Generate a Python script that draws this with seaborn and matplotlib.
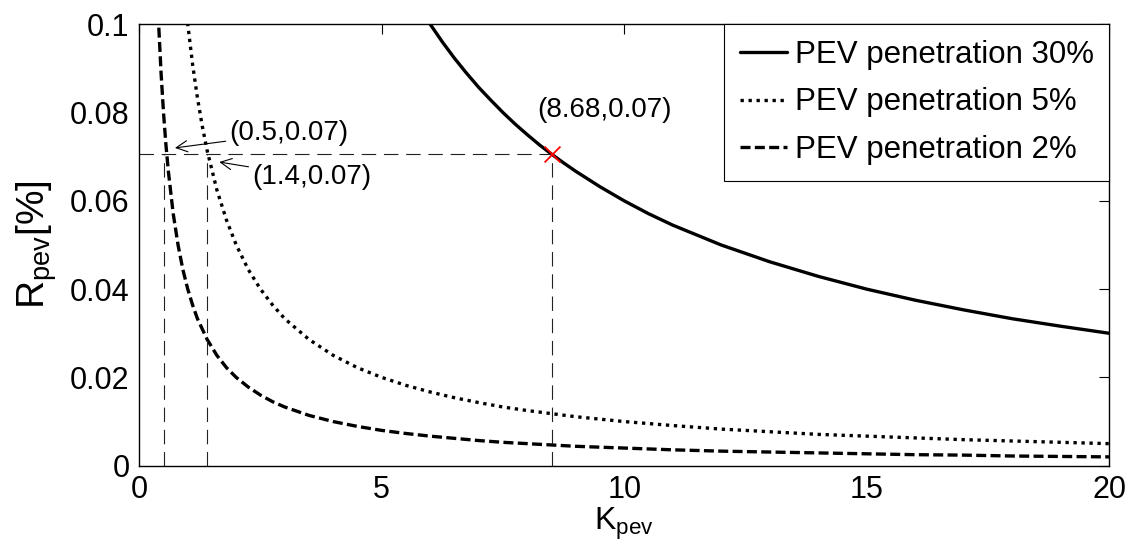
import matplotlib
matplotlib.use("Agg")
import matplotlib.pyplot as plt
import numpy as np
import pandas as pd
import seaborn as sns

# ---- data ----
k_30 = [5.5, 6, 6.25, 6.5, 6.75, 7, 7.25, 7.5, 7.75, 8, 8.25, 8.5, 8.75, 9, 9.5, 10,
        10.5, 11, 12, 13, 14, 15, 16, 17, 18, 19, 20]
r_30 = [0.109, 0.1, 0.096, 0.0923, 0.0889, 0.0857, 0.0828, 0.08, 0.0774, 0.075,
        0.0727, 0.0706, 0.0686, 0.0667, 0.0632, 0.06, 0.0571, 0.0545, 0.05, 0.0462,
        0.0429, 0.04, 0.0375, 0.0353, 0.0333, 0.0316, 0.03]

k_5 = [0.9, 1.0, 1.1, 1.2, 1.3, 1.4, 1.6, 1.8, 2.0, 2.25, 2.5, 2.75, 3, 3.5, 4, 4.5,
       5, 5.5, 6, 6.5, 7, 7.5, 8, 8.5, 9, 10, 11, 12, 13, 14, 15, 16, 17, 18, 19, 20]
r_5 = [0.1111, 0.1, 0.0909, 0.0833, 0.0769, 0.0714, 0.0625, 0.0556, 0.05, 0.0444,
       0.04, 0.0364, 0.0333, 0.0286, 0.025, 0.0222, 0.02, 0.0182, 0.0167, 0.0154,
       0.0143, 0.0133, 0.0125, 0.0118, 0.0111, 0.01, 0.0091, 0.0083, 0.0077, 0.0071,
       0.0067, 0.0063, 0.0059, 0.0056, 0.0053, 0.005]

k_2 = [0.35, 0.4, 0.45, 0.5, 0.55, 0.6, 0.7, 0.8, 0.9, 1.0, 1.1, 1.2, 1.4, 1.6, 1.8,
       2.0, 2.25, 2.5, 2.75, 3, 3.5, 4, 4.5, 5, 5.5, 6, 6.5, 7, 7.5, 8, 8.5, 9, 10,
       11, 12, 13, 14, 15, 16, 17, 18, 19, 20]
r_2 = [0.1143, 0.1, 0.0889, 0.08, 0.0727, 0.0667, 0.0571, 0.05, 0.0444, 0.04, 0.0364,
       0.0333, 0.0286, 0.025, 0.0222, 0.02, 0.0178, 0.016, 0.0145, 0.0133, 0.0114,
       0.01, 0.0089, 0.008, 0.0073, 0.0067, 0.0062, 0.0057, 0.0053, 0.005, 0.0047,
       0.0044, 0.004, 0.0036, 0.0033, 0.0031, 0.0029, 0.0027, 0.0025, 0.0024, 0.0022,
       0.0021, 0.002]

series_labels = ["PEV penetration 30%", "PEV penetration 5%", "PEV penetration 2%"]

ref_k = [0.5, 1.4, 8.5]
ref_r = 0.0706
point_labels = ["(0.5,0.07)", "(1.4,0.07)", "(8.68,0.07)"]

x_ticks = [0, 5, 10, 15, 20]
y_ticks = [0, 0.02, 0.04, 0.06, 0.08, 0.1]
y_tick_labels = ["0", "0.02", "0.04", "0.06", "0.08", "0.1"]

# ---- style ----
sns.set_theme(style="white")
plt.rcParams["font.family"] = ["Liberation Sans", "DejaVu Sans"]
plt.rcParams["mathtext.fontset"] = "custom"
plt.rcParams["mathtext.rm"] = "Liberation Sans"
plt.rcParams["mathtext.it"] = "Liberation Sans:italic"
for key in ["text.color", "axes.labelcolor", "xtick.color", "ytick.color"]:
    plt.rcParams[key] = "black"

fig = plt.figure(figsize=(11.34, 5.49), dpi=100)
ax = fig.add_axes([0.1228, 0.1517, 0.8554, 0.804])

lw = 2.4
sns.lineplot(x=k_30, y=r_30, ax=ax, color="black", lw=lw, sort=False,
             label=series_labels[0], linestyle="-")
sns.lineplot(x=k_5, y=r_5, ax=ax, color="black", lw=lw, sort=False,
             label=series_labels[1], linestyle=(0, (1.0, 1.4)))
sns.lineplot(x=k_2, y=r_2, ax=ax, color="black", lw=lw, sort=False,
             label=series_labels[2], linestyle=(0, (3.0, 1.3)))

# reference dashed lines
ax.hlines(ref_r, 0, max(ref_k), colors="#222222", lw=0.8, linestyles=(0, (13, 7)))
ax.vlines(ref_k, 0, ref_r, colors="#222222", lw=0.8, linestyles=(0, (13, 7)))

sns.scatterplot(x=[ref_k[2]], y=[ref_r], ax=ax, marker="x", color="red", s=130,
                linewidth=1.3, zorder=5, legend=False)

# annotations
ax.annotate(point_labels[0], xy=(0.736, 0.0720), xytext=(1.85, 0.0754),
            fontsize=20, ha="left", va="center", color="black",
            arrowprops=dict(arrowstyle="->", color="black", lw=0.8,
                            shrinkA=0, shrinkB=0))
ax.annotate(point_labels[1], xy=(1.65, 0.0688), xytext=(2.32, 0.0654),
            fontsize=20, ha="left", va="center", color="black",
            arrowprops=dict(arrowstyle="->", color="black", lw=0.8,
                            shrinkA=0, shrinkB=0))
ax.text(9.60, 0.0805, point_labels[2], fontsize=20, ha="center", va="center",
        color="black")

ax.set_xlim(0, 20)
ax.set_ylim(0, 0.1)
ax.set_xticks(x_ticks)
ax.set_xticklabels([str(t) for t in x_ticks])
ax.set_yticks(y_ticks)
ax.set_yticklabels(y_tick_labels)
ax.tick_params(direction="in", length=7, width=0.8, top=True, right=True,
               labelsize=22, pad=7, colors="black")

for s in ax.spines.values():
    s.set_color("black")
    s.set_linewidth(1.0)

ax.set_xlabel(r"K$_{\mathrm{pev}}$", fontsize=23, labelpad=0)
ax.set_ylabel(r"R$_{\mathrm{pev}}$[%]", fontsize=28, labelpad=8)

leg = ax.legend(loc="upper right", fontsize=22.5, frameon=True, fancybox=False,
                edgecolor="black", framealpha=1, borderaxespad=0.0,
                handlelength=1.5, handletextpad=0.25, labelspacing=0.56,
                borderpad=0.5)
leg.get_frame().set_linewidth(0.8)
for t in leg.get_texts():
    t.set_color("black")

fig.savefig("out.png", dpi=100)
